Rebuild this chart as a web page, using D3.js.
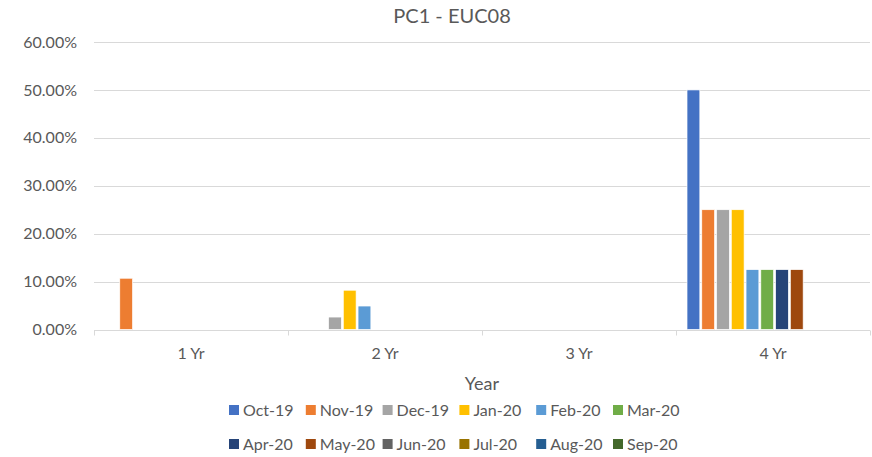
<!DOCTYPE html>
<html>
<head>
<meta charset="utf-8">
<script src="https://cdn.jsdelivr.net/npm/d3@7"></script>
<style>
  body { margin: 0; background: #fff; }
  text { font-family: Lato, "Open Sans", sans-serif; fill: #595959; }
</style>
</head>
<body>
<script>
const categories = ['1 Yr', '2 Yr', '3 Yr', '4 Yr']
const months = ['Oct-19', 'Nov-19', 'Dec-19', 'Jan-20', 'Feb-20', 'Mar-20',
                'Apr-20', 'May-20', 'Jun-20', 'Jul-20', 'Aug-20', 'Sep-20']
const colors = ['#4472C4', '#ED7D31', '#A5A5A5', '#FFC000', '#5B9BD5', '#70AD47',
                '#264478', '#9E480E', '#636363', '#997300', '#255E91', '#43682B']
// value per month, one entry per category (1 Yr .. 4 Yr)
const values = {
  'Oct-19': [0, 0, 0, 0.50],
  'Nov-19': [0.107, 0, 0, 0.25],
  'Dec-19': [0, 0.026, 0, 0.25],
  'Jan-20': [0, 0.082, 0, 0.25],
  'Feb-20': [0, 0.049, 0, 0.125],
  'Mar-20': [0, 0, 0, 0.125],
  'Apr-20': [0, 0, 0, 0.125],
  'May-20': [0, 0, 0, 0.125],
  'Jun-20': [0, 0, 0, 0],
  'Jul-20': [0, 0, 0, 0],
  'Aug-20': [0, 0, 0, 0],
  'Sep-20': [0, 0, 0, 0]
}
const yTicks = [0, 0.1, 0.2, 0.3, 0.4, 0.5, 0.6]

const width = 872, height = 457
const plot = {left: 94, right: 870, top: 42, bottom: 329.5}

const svg = d3.select('body').append('svg').attr('width', width).attr('height', height)

const x = d3.scaleBand().domain(categories).range([plot.left, plot.right])
const x1 = d3.scaleBand().domain(months).range([11, 11 + 12 * 14.6]).paddingInner(0.13)
const y = d3.scaleLinear().domain([0, 0.6]).range([plot.bottom, plot.top])
const color = d3.scaleOrdinal().domain(months).range(colors)

// gridlines
svg.append('g').selectAll('line')
  .data(yTicks.slice(1))
  .enter().append('line')
    .attr('x1', plot.left).attr('x2', plot.right)
    .attr('y1', d => Math.round(y(d)) + 0.5).attr('y2', d => Math.round(y(d)) + 0.5)
    .attr('stroke', '#d9d9d9').attr('stroke-width', 1)

// y labels
svg.append('g').selectAll('text')
  .data(yTicks)
  .enter().append('text')
    .attr('x', 77).attr('y', d => y(d))
    .attr('dy', '0.35em')
    .attr('text-anchor', 'end')
    .style('font-size', '16px')
    .text(d => d3.format('.2%')(d))

// bars
const rows = []
months.forEach(m => values[m].forEach((v, i) => { if (v > 0) rows.push({m: m, cat: categories[i], v: v}) }))
svg.append('g').selectAll('rect')
  .data(rows)
  .enter().append('rect')
    .attr('x', d => x(d.cat) + x1(d.m))
    .attr('width', x1.bandwidth())
    .attr('y', d => y(d.v))
    .attr('height', d => y(0) - y(d.v))
    .attr('fill', d => color(d.m))
    .attr('stroke', '#fff').attr('stroke-width', 0.7)

// x axis line and ticks
const base = Math.round(y(0)) + 0.5
svg.append('line').attr('x1', plot.left).attr('x2', plot.right)
  .attr('y1', base).attr('y2', base).attr('stroke', '#d9d9d9')
svg.append('g').selectAll('line')
  .data(categories.map(c => x(c)).concat([plot.right]))
  .enter().append('line')
    .attr('x1', d => Math.round(d) + 0.5).attr('x2', d => Math.round(d) + 0.5)
    .attr('y1', base).attr('y2', base + 5)
    .attr('stroke', '#d9d9d9')

svg.append('g').selectAll('text')
  .data(categories)
  .enter().append('text')
    .attr('x', d => x(d) + x.bandwidth() / 2).attr('y', 353)
    .attr('dy', '0.35em').attr('text-anchor', 'middle')
    .style('font-size', '16px')
    .text(d => d)

// titles
svg.append('text').attr('x', 452).attr('y', 16).attr('dy', '0.35em')
  .attr('text-anchor', 'middle').style('font-size', '20px').text('PC1 - EUC08')
svg.append('text').attr('x', 482).attr('y', 384).attr('dy', '0.35em')
  .attr('text-anchor', 'middle').style('font-size', '18px').text('Year')

// legend
const legend = svg.append('g').selectAll('g')
  .data(months)
  .enter().append('g')
    .attr('transform', (d, i) => 'translate(' + (229 + (i % 6) * 76.8) + ',' + (410 + Math.floor(i / 6) * 34) + ')')
legend.append('rect').attr('x', 0).attr('y', -5).attr('width', 10).attr('height', 10)
  .attr('fill', d => color(d))
legend.append('text').attr('x', 14).attr('y', 0).attr('dy', '0.35em')
  .style('font-size', '16px').text(d => d)
</script>
</body>
</html>
